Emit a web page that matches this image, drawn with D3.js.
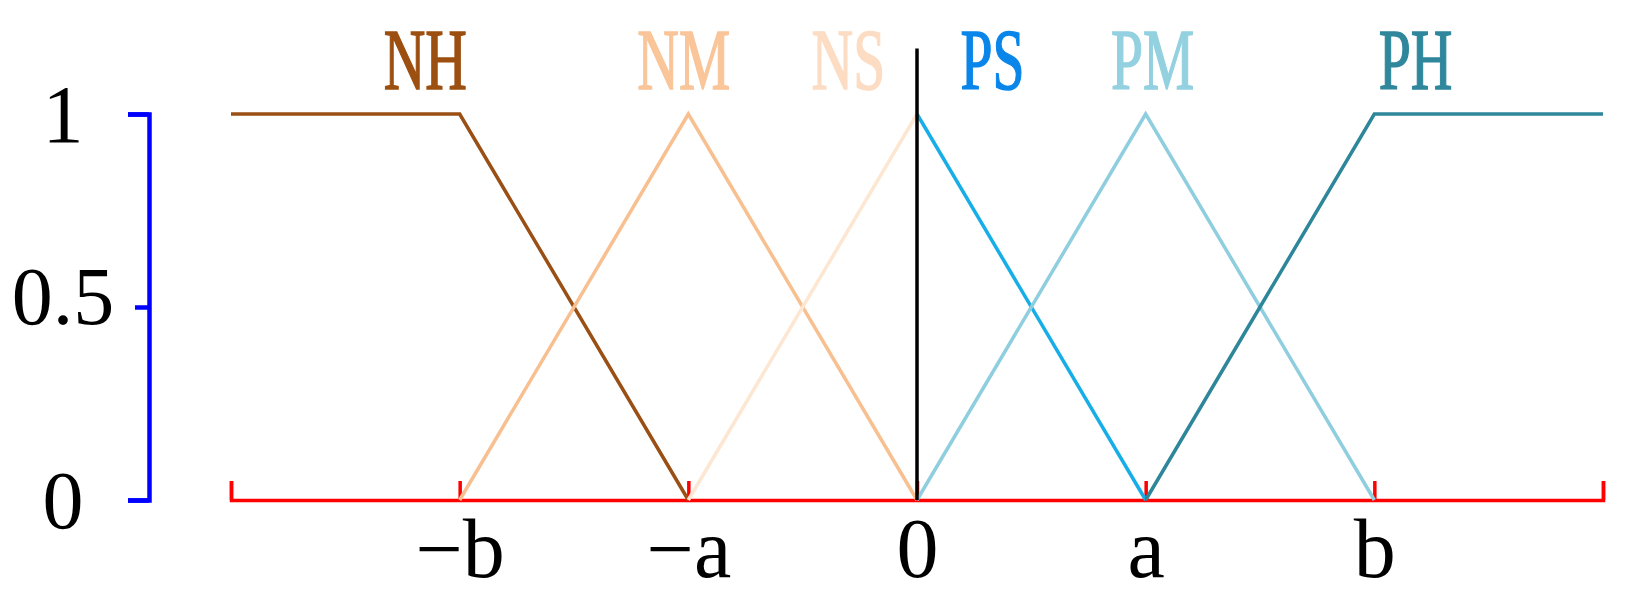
<!DOCTYPE html>
<html>
<head>
<meta charset="utf-8">
<script src="https://cdn.jsdelivr.net/npm/d3@7"></script>
<style>
  body { margin: 0; background: #fff; }
  svg { display: block; }
</style>
</head>
<body>
<div id="chart"></div>
<script>
// membership function data
const seriesNames = ['NH', 'NM', 'NS', 'PS', 'PM', 'PH'];
const seriesX = [[-3, -2, -1], [-2, -1, 0], [-1, 0], [0, 1], [0, 1, 2], [1, 2, 3]];
const seriesY = [[1, 1, 0], [0, 1, 0], [0, 1], [1, 0], [0, 1, 0], [0, 1, 1]];
const labelAt = [-2.15, -1.02, -0.3, 0.33, 1.03, 2.18];
const lineColours = ['#9a4f14', '#f8c090', '#fde6d2', '#17aee8', '#8fcede', '#2e869a'];
const labelColours = ['#9c4f10', '#f9c599', '#fcdcc3', '#0a86ea', '#93d1e0', '#2f879c'];

const xTickValues = [-3, -2, -1, 0, 1, 2, 3];
const xTickLabels = ['', '\u2212b', '\u2212a', '0', 'a', 'b', ''];
const yTickValues = [0, 0.5, 1];
const yTickLabels = ['0', '0.5', '1'];

const width = 1633;
const height = 600;

const x = d3.scaleLinear().domain([-3, 3]).range([231, 1603]);
const y = d3.scaleLinear().domain([0, 1]).range([500, 114]);

const svg = d3.select('#chart')
  .append('svg')
  .attr('width', width)
  .attr('height', height);

// red x axis, ticks pointing up
const xAxis = d3.axisBottom(x)
  .tickValues(xTickValues)
  .tickFormat((d, i) => xTickLabels[i])
  .tickSizeInner(-19)
  .tickSizeOuter(-19)
  .tickPadding(17);

const gx = svg.append('g')
  .attr('transform', `translate(0,${y(0)})`)
  .call(xAxis);

gx.select('.domain').attr('stroke', '#ff0000').attr('stroke-width', 3.5);
gx.selectAll('.tick line').attr('stroke', '#ff0000').attr('stroke-width', 3.5);
gx.selectAll('.tick text')
  .attr('fill', '#000')
  .style('font-family', '"Liberation Serif", "Times New Roman", serif')
  .style('font-size', '84px');

// blue y axis
const yAxis = d3.axisLeft(y)
  .tickValues(yTickValues)
  .tickFormat((d, i) => yTickLabels[i])
  .tickSizeInner(21)
  .tickSizeOuter(21)
  .tickPadding(0);

const gy = svg.append('g')
  .attr('transform', 'translate(149,0)')
  .call(yAxis);

gy.select('.domain').attr('stroke', '#0000ff').attr('stroke-width', 4.5);
gy.selectAll('.tick line')
  .attr('stroke', '#0000ff')
  .attr('stroke-width', 4.5)
  .attr('x2', d => d === 0.5 ? -14 : -21);
gy.selectAll('.tick text')
  .attr('fill', '#000')
  .attr('text-anchor', 'middle')
  .attr('x', -86)
  .attr('dy', d => d === 0.5 ? '0.2em' : '0.33em')
  .style('font-family', '"Liberation Serif", "Times New Roman", serif')
  .style('font-size', '82px');

// membership lines
const line = d3.line()
  .x(d => x(d[0]))
  .y(d => y(d[1]));

const series = seriesNames.map((name, i) => ({
  name: name,
  points: seriesX[i].map((v, j) => [v, seriesY[i][j]]),
  lineColour: lineColours[i],
  labelColour: labelColours[i],
  at: labelAt[i]
}));

svg.append('g')
  .selectAll('path')
  .data(series)
  .enter()
  .append('path')
  .attr('d', d => line(d.points))
  .attr('fill', 'none')
  .attr('stroke', d => d.lineColour)
  .attr('stroke-width', 3.5)
  .attr('stroke-linejoin', 'miter');

// vertical line at zero
svg.append('line')
  .attr('x1', x(0))
  .attr('x2', x(0))
  .attr('y1', y(0))
  .attr('y2', y(1.17))
  .attr('stroke', '#000')
  .attr('stroke-width', 3.5);

// series labels, condensed serif
svg.append('g')
  .selectAll('text')
  .data(series)
  .enter()
  .append('text')
  .attr('transform', d => `translate(${x(d.at)},89) scale(0.67,1)`)
  .attr('text-anchor', 'middle')
  .attr('fill', d => d.labelColour)
  .attr('stroke', d => d.labelColour)
  .attr('stroke-width', 1.5)
  .style('font-family', '"Liberation Serif", "Times New Roman", serif')
  .style('font-size', '86px')
  .text(d => d.name);
</script>
</body>
</html>
